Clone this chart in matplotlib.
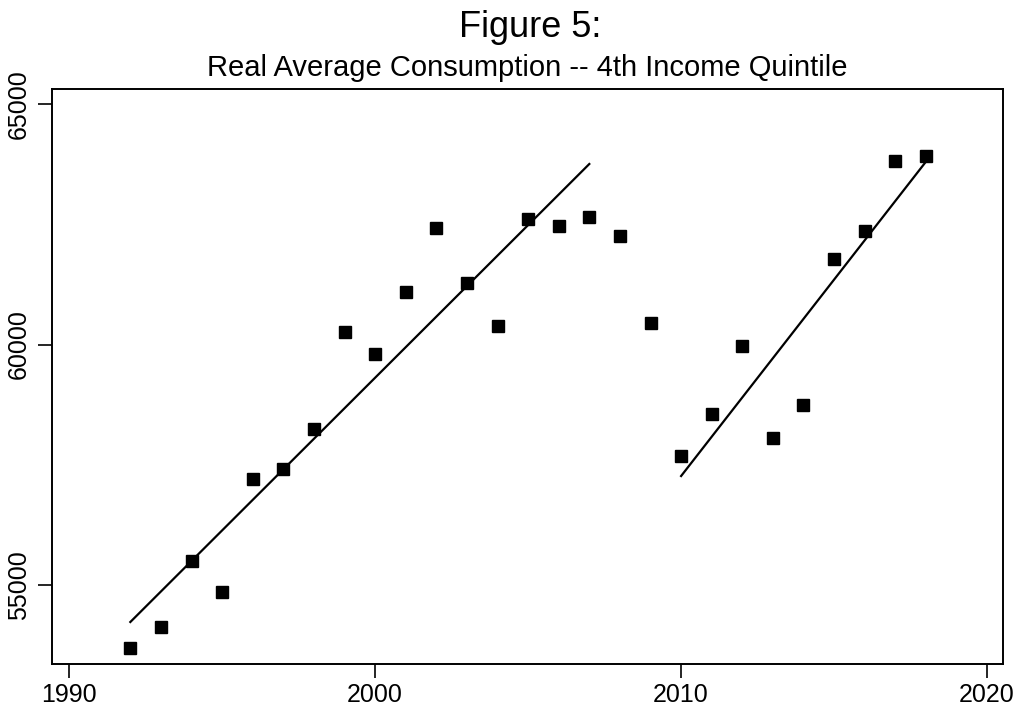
import matplotlib.pyplot as plt

plt.rcParams['font.family'] = ['Liberation Sans', 'DejaVu Sans']

# consumo medio real, 4o quintil de renda
years = [1992, 1993, 1994, 1995, 1996, 1997, 1998, 1999, 2000, 2001,
         2002, 2003, 2004, 2005, 2006, 2007, 2008, 2009, 2010, 2011,
         2012, 2013, 2014, 2015, 2016, 2017, 2018]
consumption = [53690, 54127, 55499, 54854, 57204, 57412, 58243, 60260, 59802, 61091,
               62422, 61279, 60385, 62609, 62464, 62651, 62256, 60447, 57682, 58555,
               59969, 58056, 58742, 61778, 62360, 63815, 63919]

# retas de tendencia (inicio e fim de cada trecho)
trend1_years = [1992, 2007]
trend1_vals = [54231, 63753]
trend2_years = [2010, 2018]
trend2_vals = [57266, 63800]

fig = plt.figure(figsize=(10.23, 7.13), dpi=100)
ax = fig.add_axes([52/1023, 49/713, 951/1023, 575/713])

ax.plot(years, consumption, 's', color='black', markersize=8.5, linestyle='none')
ax.plot(trend1_years, trend1_vals, color='black', lw=1.6)
ax.plot(trend2_years, trend2_vals, color='black', lw=1.6)

ax.set_xlim(1989.44, 2020.52)
ax.set_ylim(53358, 65312)
ax.set_xticks([1990, 2000, 2010, 2020])
ax.set_yticks([55000, 60000, 65000])
ax.tick_params(axis='both', direction='out', length=10, width=1.2, labelsize=18, color='black')
ax.tick_params(axis='x', pad=4)
ax.tick_params(axis='y', pad=5)
for lab in ax.get_yticklabels():
    lab.set_rotation(90)
    lab.set_va('center')
for s in ax.spines.values():
    s.set_linewidth(1.4)

fig.text(530/1023, 1 - 37/713, 'Figure 5:', ha='center', va='baseline', fontsize=26)
fig.text(527.5/1023, 1 - 76/713, 'Real Average Consumption -- 4th Income Quintile',
         ha='center', va='baseline', fontsize=21)

plt.savefig('out.png', dpi=100)
